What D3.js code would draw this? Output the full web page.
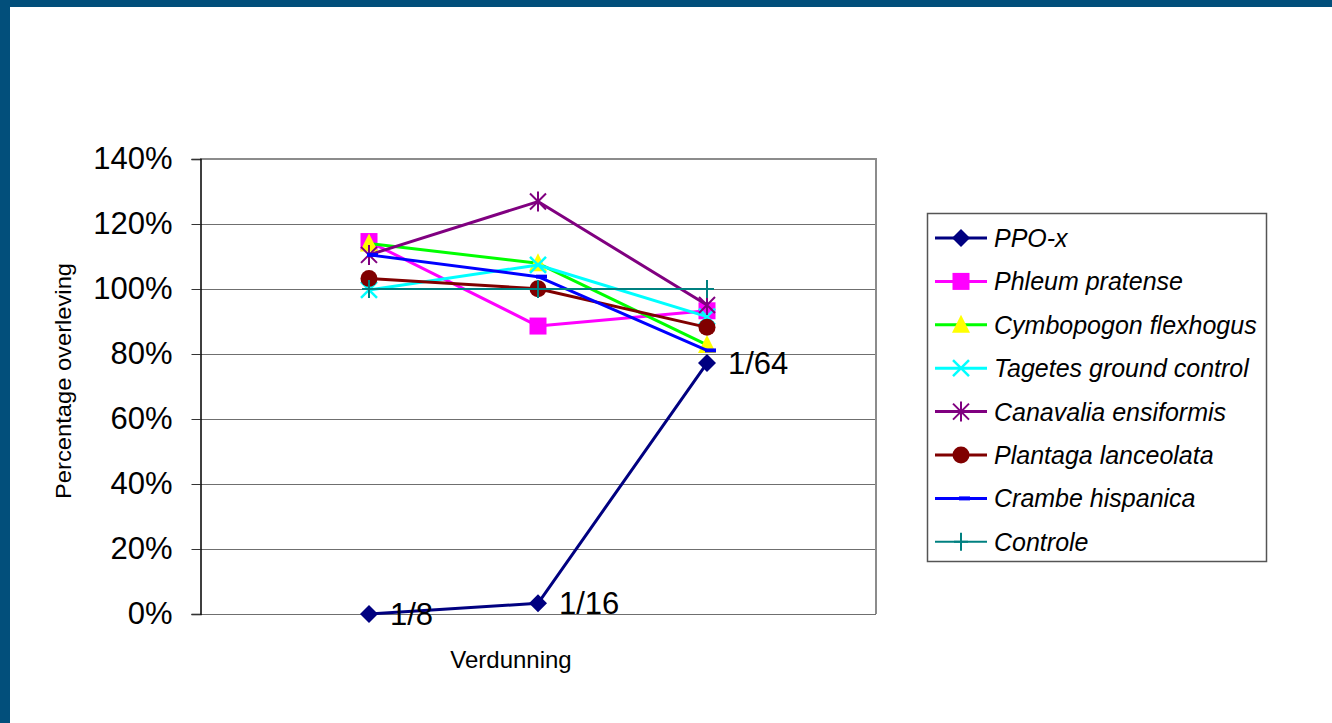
<!DOCTYPE html>
<html>
<head>
<meta charset="utf-8">
<script src="https://cdn.jsdelivr.net/npm/d3@7/dist/d3.min.js"></script>
<style>
  html, body { margin: 0; padding: 0; background: #fff; }
  svg { display: block; }
  text { font-family: Arial, "Liberation Sans", sans-serif; fill: #000; }
</style>
</head>
<body>
<svg id="chart" width="1332" height="723"></svg>
<script>
// Dilution steps on the category axis
const dilutions = ["1/8", "1/16", "1/64"];

// Survival per series (fraction of control)
const ppoX        = [0.00, 0.033, 0.772];
const phleum      = [1.146, 0.886, 0.933];
const cymbopogon  = [1.140, 1.079, 0.828];
const tagetes     = [0.997, 1.074, 0.915];
const canavalia   = [1.105, 1.269, 0.951];
const plantaga    = [1.032, 1.001, 0.882];
const crambe      = [1.105, 1.038, 0.811];
const controle    = [1.00, 1.00, 1.00];

const seriesNames = [
  "PPO-x", "Phleum pratense", "Cymbopogon flexhogus", "Tagetes ground control",
  "Canavalia ensiformis", "Plantaga lanceolata", "Crambe hispanica", "Controle"
];
const seriesValues = [ppoX, phleum, cymbopogon, tagetes, canavalia, plantaga, crambe, controle];

const yTicks = [0, 0.2, 0.4, 0.6, 0.8, 1.0, 1.2, 1.4];

// Styling per series: line colour, marker shape, marker fill
const styles = [
  { line: "#000080", marker: "diamond",  fill: "#000080", width: 3 },
  { line: "#FF00FF", marker: "square",   fill: "#FF00FF", width: 3 },
  { line: "#00FF00", marker: "triangle", fill: "#FFFF00", width: 3 },
  { line: "#00FFFF", marker: "cross",    fill: "#00FFFF", width: 3 },
  { line: "#800080", marker: "asterisk", fill: "#800080", width: 3 },
  { line: "#800000", marker: "circle",   fill: "#800000", width: 3 },
  { line: "#0000FF", marker: "dash",     fill: "#0000FF", width: 3 },
  { line: "#008080", marker: "plus",     fill: "#008080", width: 2 }
];

const svg = d3.select("#chart");

// Slide frame
svg.append("rect").attr("x", 0).attr("y", 0).attr("width", 1332).attr("height", 7).attr("fill", "#024F7B");
svg.append("rect").attr("x", 0).attr("y", 0).attr("width", 10).attr("height", 723).attr("fill", "#024F7B");

const plot = { left: 200, right: 876, top: 159, bottom: 614 };

const x = d3.scalePoint().domain(dilutions).range([plot.left, plot.right]).padding(1);
const y = d3.scaleLinear().domain([0, 1.4]).range([plot.bottom, plot.top]);

// Gridlines
svg.append("g").selectAll("line").data(yTicks).join("line")
  .attr("x1", plot.left).attr("x2", plot.right)
  .attr("y1", d => Math.round(y(d)) + 0.5).attr("y2", d => Math.round(y(d)) + 0.5)
  .attr("stroke", "#6f6f6f").attr("stroke-width", 1);

// Plot area border (top and right)
svg.append("path")
  .attr("d", `M${plot.left},${plot.top} H${plot.right} V${plot.bottom}`)
  .attr("fill", "none").attr("stroke", "#8c8c8c").attr("stroke-width", 2);

// Y axis
const yAxis = d3.axisLeft(y).tickValues(yTicks).tickFormat(d3.format(".0%")).tickSize(9).tickPadding(19);
const gy = svg.append("g").attr("transform", `translate(${plot.left + 0.5},0)`).call(yAxis);
gy.select(".domain").attr("stroke", "#000").attr("stroke-width", 1.5);
gy.selectAll(".tick line").attr("stroke", "#333");
gy.selectAll(".tick text").attr("font-size", 31).attr("font-family", "Arial, 'Liberation Sans', sans-serif").attr("fill", "#000");

// Axis titles
svg.append("text")
  .attr("transform", "translate(71,381) rotate(-90)")
  .attr("text-anchor", "middle")
  .attr("font-size", 22)
  .attr("textLength", 236).attr("lengthAdjust", "spacingAndGlyphs")
  .text("Percentage overleving");

svg.append("text")
  .attr("x", 511).attr("y", 668)
  .attr("text-anchor", "middle")
  .attr("font-size", 24)
  .text("Verdunning");

// Marker drawing
function drawMarker(g, type, cx, cy, color, fill) {
  switch (type) {
    case "diamond":
      g.append("path").attr("d", `M${cx},${cy - 9} L${cx + 9},${cy} L${cx},${cy + 9} L${cx - 9},${cy} Z`).attr("fill", fill);
      break;
    case "square":
      g.append("rect").attr("x", cx - 8.5).attr("y", cy - 8.5).attr("width", 17).attr("height", 17).attr("fill", fill);
      break;
    case "triangle":
      g.append("path").attr("d", `M${cx},${cy - 10} L${cx + 9},${cy + 8} L${cx - 9},${cy + 8} Z`).attr("fill", fill);
      break;
    case "circle":
      g.append("circle").attr("cx", cx).attr("cy", cy).attr("r", 8.5).attr("fill", fill);
      break;
    case "cross":
      g.append("path").attr("d", `M${cx - 8},${cy - 8} L${cx + 8},${cy + 8} M${cx - 8},${cy + 8} L${cx + 8},${cy - 8}`)
        .attr("stroke", color).attr("stroke-width", 2.5).attr("fill", "none");
      break;
    case "asterisk":
      g.append("path").attr("d",
        `M${cx - 8},${cy - 8} L${cx + 8},${cy + 8} M${cx - 8},${cy + 8} L${cx + 8},${cy - 8} M${cx},${cy - 10} L${cx},${cy + 10}`)
        .attr("stroke", color).attr("stroke-width", 2).attr("fill", "none");
      break;
    case "plus":
      g.append("path").attr("d", `M${cx - 7},${cy} L${cx + 7},${cy} M${cx},${cy - 9} L${cx},${cy + 9}`)
        .attr("stroke", color).attr("stroke-width", 2).attr("fill", "none");
      break;
    case "dash":
      g.append("rect").attr("x", cx - 2).attr("y", cy - 2).attr("width", 11).attr("height", 4).attr("fill", fill);
      break;
  }
}

const line = d3.line().x((d, i) => x(dilutions[i])).y(d => y(d));

// Series lines and markers
seriesValues.forEach((vals, s) => {
  const st = styles[s];
  const g = svg.append("g");
  g.append("path").attr("d", line(vals)).attr("fill", "none")
    .attr("stroke", st.line).attr("stroke-width", st.width).attr("stroke-linejoin", "round");
  vals.forEach((v, i) => drawMarker(g, st.marker, x(dilutions[i]), y(v), st.line, st.fill));
});

// Dilution labels on the PPO-x points
svg.append("g").selectAll("text").data(ppoX).join("text")
  .attr("x", (d, i) => x(dilutions[i]) + 21)
  .attr("y", d => y(d))
  .attr("dy", "0.36em")
  .attr("font-size", 31)
  .text((d, i) => dilutions[i]);

// Legend
const legend = svg.append("g");
legend.append("rect").attr("x", 927.5).attr("y", 213.5).attr("width", 339).attr("height", 348)
  .attr("fill", "#fff").attr("stroke", "#555").attr("stroke-width", 1.5);

seriesNames.forEach((name, s) => {
  const st = styles[s];
  const cy = 238 + s * 43.4;
  legend.append("line").attr("x1", 935).attr("x2", 987).attr("y1", cy).attr("y2", cy)
    .attr("stroke", st.line).attr("stroke-width", st.width);
  drawMarker(legend, st.marker, 961, cy, st.line, st.fill);
  legend.append("text").attr("x", 994).attr("y", cy).attr("dy", "0.36em")
    .attr("font-size", 25).attr("font-style", "italic").text(name);
});
</script>
</body>
</html>
